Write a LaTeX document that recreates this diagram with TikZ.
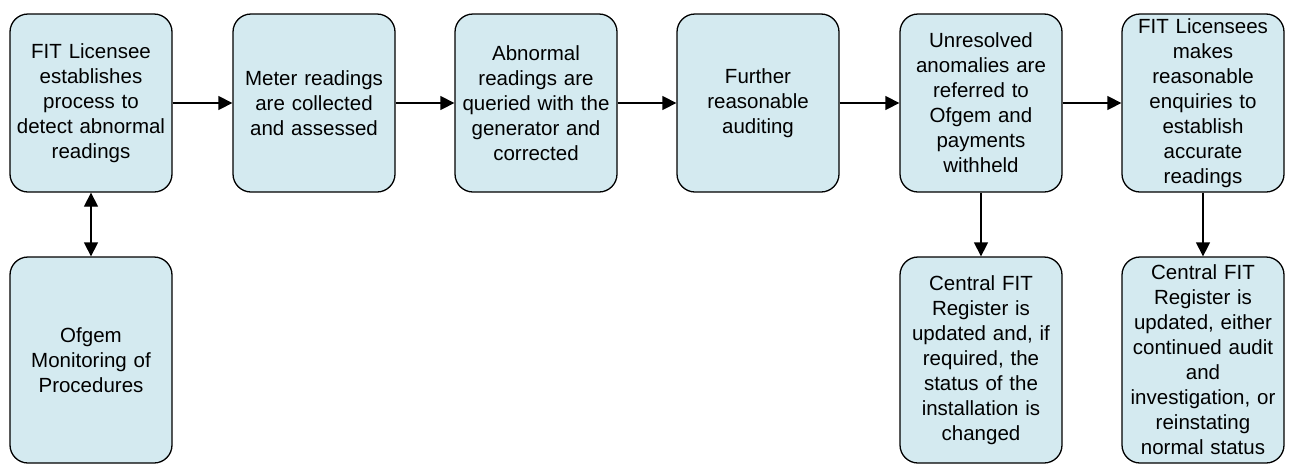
\documentclass[tikz,border=0pt]{standalone}
\usepackage{fontspec}
\setmainfont{Liberation Sans}
\usetikzlibrary{arrows.meta}
\definecolor{paleblue}{RGB}{212,234,240}

\begin{document}
\begin{tikzpicture}[x=1pt,y=-1pt,
  box/.style={draw=black, line width=1.3pt, fill=paleblue, rounded corners=18pt,
    minimum width=162pt, text width=154pt, align=center, inner sep=0pt,
    font=\fontsize{20.5}{25}\selectfont},
  topbox/.style={box, minimum height=178pt},
  lowbox/.style={box, minimum height=206pt},
  flow/.style={line width=1.3pt, -{Triangle[length=14pt,width=14pt]}},
  twoway/.style={line width=1.3pt, {Triangle[length=14pt,width=14pt]}-{Triangle[length=14pt,width=14pt]}}]
\useasboundingbox (0,0) rectangle (1289,464);

% main row
\node[topbox] (licensee) at (91,103) {FIT Licensee\\establishes\\process to\\detect abnormal\\readings};
\node[topbox] (meter) at (314,103) {Meter readings\\are collected\\and assessed};
\node[topbox] (query) at (536,103) {Abnormal\\readings are\\queried with the\\generator and\\corrected};
\node[topbox] (audit) at (758,103) {Further\\reasonable\\auditing};
\node[topbox] (refer) at (981,103) {Unresolved\\anomalies are\\referred to\\Ofgem and\\payments\\withheld};
\node[topbox] (enquire) at (1203,103) {FIT Licensees\\makes\\reasonable\\enquiries to\\establish\\accurate\\readings};

% lower row
\node[lowbox] (monitor) at (91,360) {Ofgem\\Monitoring of\\Procedures};
\node[lowbox] (changed) at (981,360) {Central FIT\\Register is\\updated and, if\\required, the\\status of the\\installation is\\changed};
\node[lowbox] (reinstate) at (1203,360) {Central FIT\\Register is\\updated, either\\continued audit\\and\\investigation, or\\reinstating\\normal status};

\draw [flow] (licensee) -- (meter);
\draw [flow] (meter) -- (query);
\draw [flow] (query) -- (audit);
\draw [flow] (audit) -- (refer);
\draw [flow] (refer) -- (enquire);
\draw [twoway] (licensee) -- (monitor);
\draw [flow] (refer) -- (changed);
\draw [flow] (enquire) -- (reinstate);
\end{tikzpicture}
\end{document}
